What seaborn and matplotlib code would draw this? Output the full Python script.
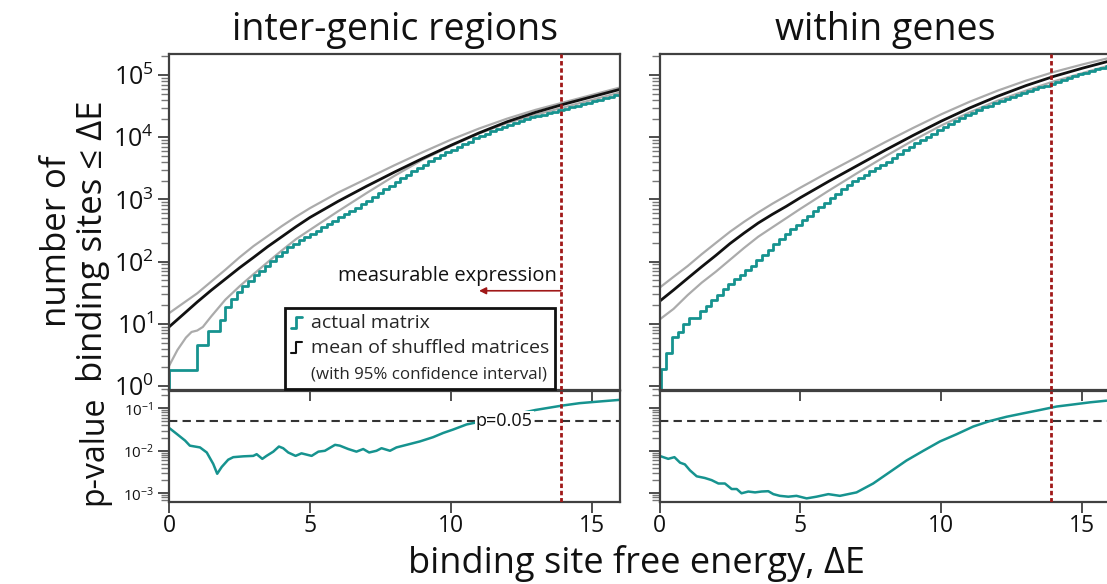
import numpy as np
import pandas as pd
import matplotlib
matplotlib.use("Agg")
import matplotlib.pyplot as plt
import seaborn as sns
from matplotlib.legend_handler import HandlerBase
from matplotlib.lines import Line2D
from matplotlib.ticker import LogLocator, NullFormatter, FixedLocator

# ---------------- data ----------------
panel_titles = ["inter-genic regions", "within genes"]
xticks = [0, 5, 10, 15]

# --- inter-genic regions (left) ---
left_smooth_x = [0, 0.5, 1, 1.5, 2, 2.5, 3, 3.5, 4, 4.5, 5, 6, 7, 8, 9, 10, 11, 12, 13, 14, 15, 16]
left_mean = [8.9, 14.1, 22.4, 34.7, 52.5, 79.4, 117, 174, 251, 363, 513, 933, 1622, 2754, 4571,
             7413, 11750, 17780, 25120, 33880, 44670, 58880]
left_upper = [14.8, 21.4, 30.9, 47.9, 74.1, 117, 178, 257, 372, 525, 724, 1288, 2138, 3548, 5754,
              9120, 13800, 19950, 27540, 36310, 47860, 63100]
left_lower_x = [0, 0.3, 0.6, 0.8, 1.0, 1.2, 1.5, 2, 2.5, 3, 3.5, 4, 4.5, 5, 6, 7, 8, 9, 10, 11, 12,
                13, 14, 15, 16]
left_lower = [2.1, 3.8, 6.0, 7.4, 7.8, 8.9, 13.2, 24.5, 40, 63, 98, 151, 229, 324, 646, 1259, 2399,
              4365, 7244, 11480, 16980, 22910, 30200, 39810, 52480]
# actual matrix: cumulative counts in 0.2-wide energy bins
left_actual = [1.8, 1.8, 1.8, 1.8, 1.8, 4.5, 4.5, 7.6, 7.6, 11.5,
               18.6, 25, 33, 41, 49, 60, 72, 86, 102, 122,
               142, 170, 193, 219, 245, 279, 316, 355, 403, 457,
               513, 582, 661, 741, 841, 955, 1096, 1259, 1445, 1660,
               1905, 2188, 2483, 2818, 3199, 3631, 4121, 4677, 5188, 5754,
               6310, 6998, 7762, 8511, 9550, 10470, 11480, 12590, 13650, 14790,
               15850, 16980, 18200, 19500, 20890, 22130, 23170, 24550, 25700, 27230,
               28840, 30200, 31990, 33880, 35480, 38020, 39810, 42660, 44670, 47860,
               50120]
left_actual_start = 0.0
left_p_x = [0, 0.27, 0.57, 0.74, 1.1, 1.34, 1.57, 1.71, 1.87, 2.1, 2.28, 2.64, 2.99, 3.11, 3.31,
            3.46, 3.7, 3.9, 4.05, 4.23, 4.49, 4.7, 5.06, 5.3, 5.53, 5.89, 6.06, 6.36, 6.65, 6.89,
            7.1, 7.36, 7.54, 7.84, 8.07, 8.43, 8.9, 9.37, 9.73, 10.08, 10.56, 11.0, 12.0, 13.0,
            13.92, 14.57, 15.3, 16.0]
left_p = [0.0347, 0.0251, 0.0174, 0.0132, 0.0120, 0.00912, 0.00490, 0.00288, 0.00417, 0.00617,
          0.00708, 0.00741, 0.00759, 0.00832, 0.00646, 0.00759, 0.00955, 0.0126, 0.0115, 0.00912,
          0.00759, 0.00871, 0.00759, 0.00955, 0.0100, 0.0138, 0.0132, 0.0110, 0.00955, 0.0110,
          0.00912, 0.0100, 0.0115, 0.0100, 0.0120, 0.0138, 0.0166, 0.0209, 0.0263, 0.0316,
          0.0417, 0.0479, 0.0661, 0.0912, 0.115, 0.132, 0.145, 0.158]

# --- within genes (right) ---
right_smooth_x = [0, 0.5, 1, 1.5, 2, 2.5, 3, 3.5, 4, 4.5, 5, 6, 7, 8, 9, 10, 11, 12, 13, 14, 15, 16]
right_mean = [23, 35, 54, 83, 126, 195, 288, 417, 575, 776, 1070, 1950, 3467, 6166, 10720, 18200,
              29510, 45710, 67610, 95500, 128800, 169800]
right_upper = [38, 57, 85, 132, 200, 302, 437, 617, 851, 1148, 1549, 2754, 4786, 8318, 14130,
               23440, 37150, 56230, 81280, 112200, 147900, 190500]
right_lower = [11.7, 17.4, 29, 46, 69, 107, 166, 251, 355, 501, 708, 1380, 2630, 4898, 8913,
               15490, 25120, 38900, 56230, 79430, 107200, 144500]
right_actual = [1.85, 3.4, 6.1, 7.4, 10, 12.4, 12.4, 15.8, 19.5, 24.5,
                29.5, 36, 44, 52, 61, 74, 86, 105, 128, 155,
                190, 229, 275, 331, 389, 468, 550, 646, 759, 891,
                1047, 1230, 1445, 1700, 1950, 2240, 2510, 2820, 3160, 3550,
                4070, 4680, 5370, 6170, 7080, 8130, 9120, 10230, 11480, 12880,
                14620, 16410, 18200, 20180, 22390, 24830, 27540, 30200, 32360, 35480,
                38020, 41210, 44670, 47860, 51290, 54950, 58880, 63100, 67610, 72440,
                77620, 83180, 89130, 95500, 102300, 107200, 114800, 123000, 128800, 138000,
                147900]
right_actual_start = 0.04
right_p_x = [0, 0.31, 0.53, 0.73, 0.9, 1.08, 1.32, 1.61, 1.85, 2.09, 2.32, 2.56, 2.74, 2.91, 3.15,
             3.39, 3.62, 3.86, 4.04, 4.27, 4.57, 4.86, 5.22, 5.57, 5.99, 6.4, 6.99, 7.58, 8.17,
             8.76, 9.36, 9.95, 10.54, 11.13, 11.72, 12.31, 12.9, 13.5, 14.09, 14.68, 15.27, 15.86]
right_p = [0.00759, 0.00646, 0.00708, 0.00525, 0.00479, 0.00347, 0.00251, 0.00229, 0.00204,
           0.00170, 0.00170, 0.00126, 0.00126, 0.00100, 0.00110, 0.00105, 0.00110, 0.00112,
           0.000955, 0.000871, 0.000832, 0.000871, 0.000759, 0.000832, 0.000955, 0.000871,
           0.00105, 0.00170, 0.00316, 0.00589, 0.0100, 0.0166, 0.0245, 0.0372, 0.0501, 0.0631,
           0.0759, 0.0912, 0.110, 0.123, 0.138, 0.151]

p_threshold = 0.05
measurable_energy = 13.9

# ---------------- style ----------------
sns.set_theme(style="ticks")
FAM = ["Open Sans", "DejaVu Sans"]
plt.rcParams["font.family"] = FAM
plt.rcParams["mathtext.fontset"] = "custom"
plt.rcParams["mathtext.rm"] = "Open Sans"
plt.rcParams["mathtext.it"] = "Open Sans:italic"
plt.rcParams["mathtext.bf"] = "Open Sans:bold"

TEAL = "#16938f"
GRAY = "#ababab"
BLACK = "#111111"
RED = "#a01818"
SPINE = "#404040"
TXT = "#111111"

W, H = 1107, 584
fig = plt.figure(figsize=(W / 100, H / 100), dpi=100)
fig.patch.set_facecolor("white")


def rect(x0, x1, y0, y1):
    return [x0 / W, 1 - y1 / H, (x1 - x0) / W, (y1 - y0) / H]


axLb = fig.add_axes(rect(169, 620, 391, 502))
axRb = fig.add_axes(rect(659.5, 1110.5, 391, 502))
axLt = fig.add_axes(rect(169, 620, 54, 390))
axRt = fig.add_axes(rect(659.5, 1110.5, 54, 390))


def step_xy(start, values):
    xs = [0.0] + [start + 0.2 * i for i in range(len(values))]
    ys = [0.0] + list(values)
    return xs, ys


def draw_top(ax, sx, mean, upper, lx, lower, actual, start):
    sns.lineplot(x=lx, y=lower, ax=ax, color=GRAY, lw=1.6, estimator=None, sort=False)
    sns.lineplot(x=sx, y=upper, ax=ax, color=GRAY, lw=1.6, estimator=None, sort=False)
    xs, ys = step_xy(start, actual)
    sns.lineplot(x=xs, y=ys, ax=ax, color=TEAL, lw=2.0, estimator=None, sort=False,
                 drawstyle="steps-post")
    sns.lineplot(x=sx, y=mean, ax=ax, color=BLACK, lw=2.0, estimator=None, sort=False)
    ax.set_yscale("log")
    ax.set_ylim(0.863, 2.18e5)


def draw_bottom(ax, px, p):
    sns.lineplot(x=px, y=p, ax=ax, color=TEAL, lw=1.8, estimator=None, sort=False)
    ax.axhline(p_threshold, color="#333333", lw=1.5, ls=(0, (4, 2.5)), zorder=1)
    ax.set_yscale("log")
    ax.set_ylim(6.24e-4, 0.255)


draw_top(axLt, left_smooth_x, left_mean, left_upper, left_lower_x, left_lower, left_actual,
         left_actual_start)
draw_top(axRt, right_smooth_x, right_mean, right_upper, right_smooth_x, right_lower, right_actual,
         right_actual_start)
draw_bottom(axLb, left_p_x, left_p)
draw_bottom(axRb, right_p_x, right_p)

for ax in (axLt, axRt, axLb, axRb):
    ax.set_xlim(0, 16)
    ax.axvline(measurable_energy, color=RED, lw=2.0, ls=(0, (1.6, 1.0)), zorder=5)
    ax.set_xlabel("")
    ax.set_ylabel("")
    ax.set_facecolor("white")
    for s in ax.spines.values():
        s.set_visible(True)
        s.set_color(SPINE)
        s.set_linewidth(1.6)
    ax.xaxis.set_major_locator(FixedLocator(xticks))
    ax.yaxis.set_major_locator(LogLocator(base=10, numticks=20))
    ax.yaxis.set_minor_locator(LogLocator(base=10, subs=np.arange(2, 10), numticks=20))
    ax.yaxis.set_minor_formatter(NullFormatter())
    ax.tick_params(axis="both", which="major", direction="out", length=8, width=1.3,
                   color=SPINE, pad=3)
    ax.tick_params(axis="y", which="minor", direction="out", length=6, width=1.0, color="#777777")
    ax.tick_params(axis="x", which="minor", length=0)

for ax in (axLt, axRt):
    ax.tick_params(axis="x", labelbottom=False)
for ax in (axLb, axRb):
    ax.set_xticks(xticks)
    ax.set_xticklabels([str(t) for t in xticks])
    ax.tick_params(axis="x", labelsize=16.5, labelcolor=TXT, pad=1)

axLt.tick_params(axis="y", which="major", labelsize=18, labelcolor=TXT)
axLb.tick_params(axis="y", which="major", labelsize=11, labelcolor=TXT)
axRt.tick_params(axis="y", labelleft=False)
axRb.tick_params(axis="y", labelleft=False)

# titles
axLt.set_title(panel_titles[0], fontsize=27, pad=10, color=TXT)
axRt.set_title(panel_titles[1], fontsize=27, pad=10, color=TXT)

# p = 0.05 label
axLb.text(11.9, p_threshold, "p=0.05", ha="center", va="center", fontsize=13, color=TXT,
          bbox=dict(fc="white", ec="none", pad=1.0), zorder=4)

# measurable expression annotation
axLt.annotate("", xy=(11.0, 34), xytext=(measurable_energy, 34),
              arrowprops=dict(arrowstyle="-|>", color=RED, lw=1.2, mutation_scale=10,
                              shrinkA=0, shrinkB=0), zorder=6)
axLt.text(13.75, 58, "measurable expression", ha="right", va="center", fontsize=14.5,
          color=TXT, zorder=6)


# legend with step icons
class StepHandler(HandlerBase):
    def create_artists(self, legend, orig_handle, xdescent, ydescent, width, height, fontsize,
                       trans):
        x0, y0 = -xdescent, -ydescent
        xs = [x0, x0 + 0.45 * width, x0 + 0.45 * width, x0 + width]
        ys = [y0 + 0.05 * height, y0 + 0.05 * height, y0 + 0.85 * height, y0 + 0.85 * height]
        ln = Line2D(xs, ys, color=orig_handle.get_color(), lw=orig_handle.get_linewidth())
        ln.set_transform(trans)
        return [ln]


h_actual = Line2D([], [], color=TEAL, lw=2.0)
h_mean = Line2D([], [], color=BLACK, lw=1.5)
h_blank = Line2D([], [], color="none", lw=0)
leg = axLt.legend([h_actual, h_mean, h_blank],
                  ["actual matrix", "mean of shuffled matrices", "(with 95% confidence interval)"],
                  handler_map={h_actual: StepHandler(), h_mean: StepHandler()},
                  loc="lower left", bbox_to_anchor=(0.257, 0.004), fontsize=14,
                  frameon=True, fancybox=False, edgecolor="#111111", framealpha=1,
                  handlelength=0.55, handletextpad=0.45, labelspacing=0.37, borderpad=0.33,
                  borderaxespad=0)
leg.get_frame().set_linewidth(2.0)
leg.get_texts()[2].set_fontsize(12.2)
leg.set_zorder(7)

# axis labels
fig.text(75 / W, 1 - 241 / H, "number of\nbinding sites \u2264 \u0394E", rotation=90,
         ha="center", va="center", fontsize=25, linespacing=1.1, color=TXT,
         multialignment="center")
fig.text(94 / W, 1 - 450 / H, "p-value", rotation=90, ha="center", va="center", fontsize=23,
         color=TXT)
fig.text(637 / W, 1 - 564 / H, "binding site free energy, \u0394E", ha="center", va="center",
         fontsize=26, color=TXT)

fig.savefig("out.png", dpi=100, facecolor="white")
